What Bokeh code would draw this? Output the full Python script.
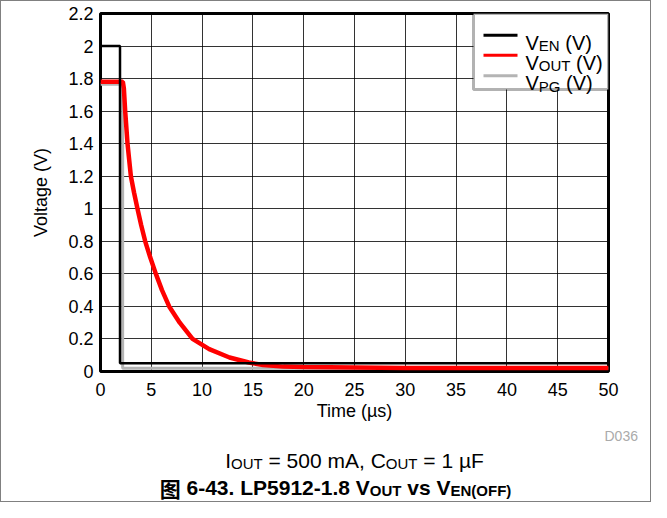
from bokeh.plotting import figure
from bokeh.layouts import column
from bokeh.models import FixedTicker, BoxAnnotation, Arrow, Label, Range1d
from bokeh.embed import file_html
from bokeh.resources import INLINE

# ---------------- data ----------------
x_ticks = [0, 5, 10, 15, 20, 25, 30, 35, 40, 45, 50]
y_ticks = [0, 0.2, 0.4, 0.6, 0.8, 1.0, 1.2, 1.4, 1.6, 1.8, 2.0, 2.2]
y_tick_labels = ["0", "0.2", "0.4", "0.6", "0.8", "1", "1.2", "1.4", "1.6", "1.8", "2", "2.2"]

ven_t = [0, 1.92, 1.92, 50]
ven_v = [2.0, 2.0, 0.05, 0.05]

vpg_t = [0, 2.18, 2.18, 50]
vpg_v = [1.765, 1.765, 0.02, 0.02]

vout_t = [0, 2.2, 2.3, 2.43, 2.66, 2.99, 3.3, 3.64, 4.0, 4.4, 4.9, 5.45, 6.05, 6.76,
          7.8, 9.06, 10.7, 12.7, 14.6, 16, 18, 20, 25, 30, 40, 50]
vout_v = [1.78, 1.78, 1.74, 1.6, 1.4, 1.2, 1.1, 1.0, 0.9, 0.8, 0.7, 0.6, 0.5, 0.4,
          0.3, 0.2, 0.137, 0.086, 0.055, 0.04, 0.03, 0.028, 0.025, 0.022, 0.022, 0.022]

series_names = ["EN", "OUT", "PG"]
series_colors = ["#000000", "#ff0000", "#b4b4b4"]

# ---------------- layout (page pixels of the reference) ----------------
FONT = "Liberation Sans"
OX, OY = 9, 9                      # page position of the content (margin 8 + 1px border)
W = 649
H1 = 423                           # main figure height
H2 = 77                            # caption strip height
FL, FR, FT, FB = 108 - OX, 616 - OX, 21 - OY, 379 - OY  # frame in figure pixels
X0, X1 = x_ticks[0], x_ticks[-1]
Y0, Y1 = y_ticks[0], y_ticks[-1]

p = figure(width=W, height=H1, output_backend="svg", toolbar_location=None,
           x_range=Range1d(X0, X1), y_range=Range1d(Y0, Y1),
           min_border_left=FL, min_border_right=W - FR,
           min_border_top=FT, min_border_bottom=H1 - FB)
p.frame_align = False
p.background_fill_color = "white"
p.border_fill_color = "white"
p.outline_line_color = "black"
p.outline_line_width = 3

for ax in (p.xaxis[0], p.yaxis[0]):
    ax.axis_line_color = None
    ax.major_tick_line_color = None
    ax.minor_tick_line_color = None
    ax.major_tick_out = 0
    ax.major_tick_in = 0
    ax.major_label_text_font = FONT
    ax.major_label_text_font_size = "18px"
    ax.major_label_text_color = "black"
    ax.axis_label_text_font = FONT
    ax.axis_label_text_font_size = "18px"
    ax.axis_label_text_font_style = "normal"
    ax.axis_label_text_color = "black"

p.xaxis.ticker = FixedTicker(ticks=x_ticks)
p.yaxis.ticker = FixedTicker(ticks=y_ticks)
p.yaxis.major_label_overrides = {t: s for t, s in zip(y_ticks, y_tick_labels)}
p.xaxis.axis_label = "Time (µs)"
p.yaxis.axis_label = "Voltage (V)"
p.xaxis.major_label_standoff = 11
p.xaxis.axis_label_standoff = 2
p.yaxis.major_label_standoff = 7
p.yaxis.axis_label_standoff = 14

p.xgrid.ticker = FixedTicker(ticks=x_ticks)
p.ygrid.ticker = FixedTicker(ticks=y_ticks)
for g in (p.xgrid[0], p.ygrid[0]):
    g.grid_line_color = "black"
    g.grid_line_alpha = 0.8
    g.grid_line_width = 1

# ---------------- series ----------------
p.line(vpg_t, vpg_v, line_color=series_colors[2], line_width=3)
p.line(vout_t, vout_v, line_color=series_colors[1], line_width=4.5)
p.line(ven_t, ven_v, line_color=series_colors[0], line_width=2.5)

# ---------------- text helpers ----------------
REG = {' ': 278, '(': 333, ')': 333, ',': 278, '-': 333, '.': 278, '=': 584,
       'A': 667, 'C': 722, 'D': 722, 'E': 667, 'F': 611, 'G': 778, 'I': 278, 'L': 556,
       'N': 722, 'O': 778, 'P': 667, 'T': 611, 'U': 722, 'V': 667, 'm': 833, 's': 500,
       'v': 500, 'µ': 576}
BOLD = {' ': 278, '(': 333, ')': 333, '-': 333, '.': 278, 'E': 667, 'F': 611,
        'L': 611, 'N': 722, 'O': 778, 'P': 667, 'T': 611, 'U': 722, 'V': 667,
        's': 556, 'v': 556, '图': 1000}

def tw(s, size, bold=False):
    tab = BOLD if bold else REG
    return sum(556 if c.isdigit() else tab.get(c, 556) for c in s) * size / 1000.0

def rich(fig, conv_x, conv_y, parts, x_left, baseline, size, sub_size, bold=False, drop=3):
    x = x_left
    for txt, kind in parts:
        fs = sub_size if kind == "sub" else size
        lead = len(txt) - len(txt.lstrip(" "))
        x += tw(" " * lead, fs, bold)
        body = txt.strip(" ")
        y = baseline + (drop if kind == "sub" else 0)
        font = "Noto Sans CJK SC" if kind == "cjk" else FONT
        fig.add_layout(Label(x=conv_x(x), y=conv_y(y), text=body, text_font=font,
                             text_font_size=f"{fs}px",
                             text_font_style="bold" if bold else "normal",
                             text_baseline="alphabetic", text_align="left",
                             text_color="black"))
        x += tw(body, fs, bold)
        trail = len(txt) - len(txt.rstrip(" "))
        x += tw(" " * trail, fs, bold)
    return x

def rich_width(parts, size, sub_size, bold=False):
    return sum(tw(t, sub_size if k == "sub" else size, bold) for t, k in parts)

# page pixel -> data of main figure
def dx(X):
    return X0 + (X - OX - FL) * (X1 - X0) / (FR - FL)

def dy(Y):
    return Y0 + (FB - (Y - OY)) * (Y1 - Y0) / (FB - FT)

# ---------------- legend (drawn manually for subscripts) ----------------
p.add_layout(BoxAnnotation(left=dx(481), right=dx(616), bottom=dy(97), top=dy(21),
                           fill_color="white", fill_alpha=1.0,
                           line_color="black", line_width=3))
leg_y = [42.7, 62.7, 83.3]
for name, col, yy in zip(series_names, series_colors, leg_y):
    p.add_layout(Arrow(end=None, x_start=dx(491), x_end=dx(525), y_start=dy(yy), y_end=dy(yy),
                       line_color=col, line_width=3))
    rich(p, dx, dy, [("V", "main"), (name, "sub"), (" (V)", "main")], 533, yy + 7.5, 20, 15)

# ---------------- caption strip ----------------
TOP2 = OY + H1  # page y where the strip starts
p2 = figure(width=W, height=H2, output_backend="svg", toolbar_location=None,
            x_range=Range1d(0, W), y_range=Range1d(H2, 0),
            x_axis_type=None, y_axis_type=None,
            min_border_left=0, min_border_right=0, min_border_top=0, min_border_bottom=0)
p2.frame_align = False
p2.outline_line_color = None
p2.grid.visible = False
p2.background_fill_color = "white"
p2.border_fill_color = "white"

def sx(X):
    return X - OX

def sy(Y):
    return Y - TOP2

p2.add_layout(Label(x=sx(612), y=sy(443), text="D036", text_font=FONT,
                    text_font_size="14px", text_color="#aaaaaa",
                    text_baseline="alphabetic", text_align="left"))

cap = [("I", "main"), ("OUT", "sub"), (" = 500 mA, C", "main"), ("OUT", "sub"), (" = 1 µF", "main")]
cw = rich_width(cap, 21, 15)
rich(p2, sx, sy, cap, 362 - cw / 2, 468, 21, 15)

ttl = [("图", "cjk"), (" 6-43. LP5912-1.8 V", "main"), ("OUT", "sub"), (" vs V", "main"), ("EN(OFF)", "sub")]
tw_ = rich_width(ttl, 21, 15, bold=True)
rich(p2, sx, sy, ttl, 343 - tw_ / 2, 495, 21, 15, bold=True)

layout = column(p, p2, spacing=0, styles={"border": "1px solid #808080"})

open("out.html", "w").write(file_html(layout, INLINE))
